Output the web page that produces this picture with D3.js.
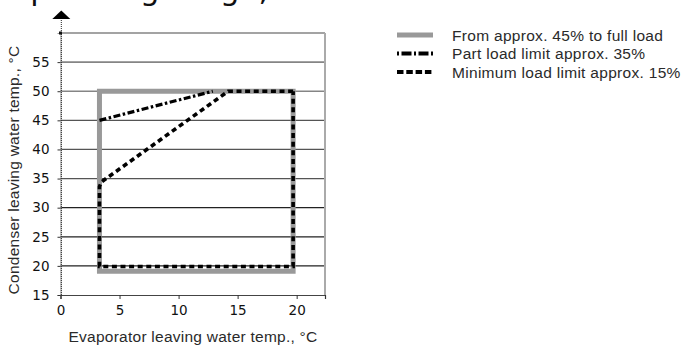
<!DOCTYPE html>
<html>
<head>
<meta charset="utf-8">
<script src="https://cdn.jsdelivr.net/npm/d3@7"></script>
<style>
  html, body { margin: 0; padding: 0; background: #fff; }
  svg { display: block; }
</style>
</head>
<body>
<svg id="chart" width="687" height="347"></svg>
<script>
// ---- data ----
const title = "Operating range,";
const xTickValues = [0, 5, 10, 15, 20];
const yTickValues = [15, 20, 25, 30, 35, 40, 45, 50, 55];
const gridValues = [20, 25, 30, 35, 40, 45, 50, 55, 60];
const seriesNames = ["From approx. 45% to full load", "Part load limit approx. 35%", "Minimum load limit approx. 15%"];
const fullLoadX = [3.3, 3.3, 19.7, 19.7, 3.3];
const fullLoadY = [19.1, 50, 50, 19.1, 19.1];
const partLoadX = [3.3, 12.9];
const partLoadY = [45, 50];
const minLoadX = [19.7, 14.2, 3.45, 3.3, 3.3, 19.7, 19.7];
const minLoadY = [50, 50, 34.4, 33.6, 19.9, 19.9, 50];
const xLabel = "Evaporator leaving water temp., °C";
const yLabel = "Condenser leaving water temp., °C";

const svg = d3.select("#chart");
const x = d3.scaleLinear().domain([0, 22.4]).range([60.5, 325]);
const y = d3.scaleLinear().domain([15, 60]).range([295, 33]);
const toPts = (xs, ys) => xs.map((v, i) => [v, ys[i]]);
const line = d3.line().x(d => x(d[0])).y(d => y(d[1]));

// title (cut off at top, as in the reference)
svg.append("text").attr("x", 6).attr("y", 0)
  .attr("font-family", "DejaVu Sans").attr("font-size", 30.7)
  .attr("fill", "#111").text(title);

// gridlines
const gridColor = v => v >= 50 ? "#858585" : (v >= 35 ? "#555" : "#222");
svg.append("g").selectAll("line").data(gridValues).join("line")
  .attr("x1", x(0)).attr("x2", x(22.4))
  .attr("y1", d => y(d)).attr("y2", d => y(d))
  .attr("stroke", d => gridColor(d))
  .attr("stroke-width", d => d >= 50 ? 1.6 : 1.2);

// right border
svg.append("line").attr("x1", x(22.4)).attr("x2", x(22.4))
  .attr("y1", y(60)).attr("y2", y(15))
  .attr("stroke", "#aaa").attr("stroke-width", 2);

// y axis
const yAxis = svg.append("g").attr("transform", `translate(${x(0)},0)`)
  .call(d3.axisLeft(y).tickValues(yTickValues).tickSize(3).tickPadding(8));
yAxis.select(".domain").attr("stroke", "#999").attr("stroke-width", 1);
yAxis.selectAll(".tick line").attr("stroke", "#333");
yAxis.selectAll(".tick text").attr("font-family", "DejaVu Sans").attr("font-size", 13.5).attr("fill", "#111");
// dotted arrow line
svg.append("line").attr("x1", x(0) + 0.8).attr("x2", x(0) + 0.8)
  .attr("y1", 18).attr("y2", y(15))
  .attr("stroke", "#222").attr("stroke-width", 1).attr("stroke-dasharray", "1,1");
svg.append("path")
  .attr("d", `M${x(0) + 0.8 - 9},19 L${x(0) + 0.8},10.5 L${x(0) + 0.8 + 9},19 Z`)
  .attr("fill", "#000");
svg.append("rect").attr("x", x(0) - 1.5).attr("y", y(60) - 1.5).attr("width", 3).attr("height", 3).attr("fill", "#111");

// x axis
const xAxis = svg.append("g").attr("transform", `translate(0,${y(15)})`)
  .call(d3.axisBottom(x).tickValues(xTickValues.concat([22.4])).tickSize(4).tickPadding(6)
    .tickFormat(d => xTickValues.includes(d) ? d : ""));
xAxis.select(".domain").attr("stroke", "#444").attr("stroke-width", 1.2);
xAxis.selectAll(".tick line").attr("stroke", "#333");
xAxis.selectAll(".tick text").attr("font-family", "DejaVu Sans").attr("font-size", 13.5).attr("fill", "#111");

// series
svg.append("path").datum(toPts(fullLoadX, fullLoadY)).attr("d", d => line(d) + "Z")
  .attr("fill", "none").attr("stroke", "#999").attr("stroke-width", 5)
  .attr("stroke-linejoin", "miter");
svg.append("path").datum(toPts(partLoadX, partLoadY)).attr("d", line)
  .attr("fill", "none").attr("stroke", "#000").attr("stroke-width", 3.2)
  .attr("stroke-dasharray", "7,2.5,2.5,2.5");
svg.append("path").datum(toPts(minLoadX, minLoadY)).attr("d", line)
  .attr("fill", "none").attr("stroke", "#000").attr("stroke-width", 3.6)
  .attr("stroke-dasharray", "5,3.6");

// axis labels
const labelFont = "Liberation Sans";
svg.append("text").attr("x", 193).attr("y", 342).attr("text-anchor", "middle")
  .attr("font-family", labelFont).attr("font-size", 15.5).attr("letter-spacing", 0.25)
  .attr("fill", "#2a2a2a").text(xLabel);
svg.append("text").attr("transform", "translate(19,170) rotate(-90)").attr("text-anchor", "middle")
  .attr("font-family", labelFont).attr("font-size", 15.5).attr("letter-spacing", 0.25)
  .attr("fill", "#2a2a2a").text(yLabel);

// legend
const legY = [35, 53.5, 72];
const leg = svg.append("g");
leg.append("line").attr("x1", 397).attr("x2", 433).attr("y1", legY[0]).attr("y2", legY[0])
  .attr("stroke", "#999").attr("stroke-width", 5);
leg.append("line").attr("x1", 397).attr("x2", 433).attr("y1", legY[1]).attr("y2", legY[1])
  .attr("stroke", "#000").attr("stroke-width", 4).attr("stroke-dasharray", "2,2.5,10,2.5");
leg.append("line").attr("x1", 397).attr("x2", 433).attr("y1", legY[2]).attr("y2", legY[2])
  .attr("stroke", "#000").attr("stroke-width", 4).attr("stroke-dasharray", "6.5,2.8");
leg.selectAll("text").data(seriesNames).join("text")
  .attr("x", 452).attr("y", (d, i) => legY[i] + 5.5)
  .attr("font-family", labelFont).attr("font-size", 15.5).attr("letter-spacing", 0.3)
  .attr("fill", "#2a2a2a")
  .text(d => d);
</script>
</body>
</html>
